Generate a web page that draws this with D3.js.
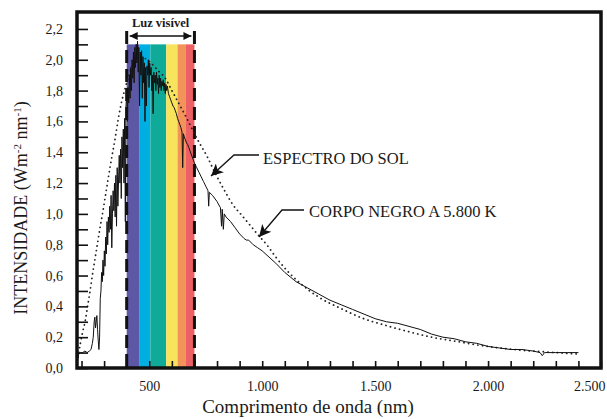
<!DOCTYPE html>
<html><head><meta charset="utf-8">
<script src="https://cdn.jsdelivr.net/npm/d3@7"></script>
<style>
html,body{margin:0;padding:0;background:#fff;}
text{font-family:"Liberation Serif","DejaVu Serif",serif;fill:#1a1a1a;}
</style></head>
<body><svg id="c" width="607" height="419"></svg>
<script>
// ---- data ----
const solarWavelength = [180,183,188,195,205,215,225,235,242,248,252,256,259,262,265,268,271,274,277,280,283,286,289,292,295,298,301,304,307,310,313,316,319,322,325,328,331,334,337,340,343,346,349,352,355,358,361,364,367,370,373,376,379,382,385,388,391,394,397,400,403,406,409,412,415,418,421,424,427,430,433,436,439,442,445,448,451,454,457,460,463,466,469,472,475,478,481,484,487,490,493,496,499,502,505,508,511,514,517,520,523,526,529,532,535,538,541,544,547,550,553,556,559,562,565,568,571,574,577,580,585,590,595,600,605,610,615,620,625,630,635,640,645,648,651,655,660,665,670,675,680,685,690,695,700,710,720,730,740,750,760,763,766,780,800,815,820,823,828,832,840,860,880,900,920,930,940,960,980,1000,1030,1060,1100,1150,1200,1250,1300,1350,1400,1450,1500,1550,1600,1650,1700,1750,1800,1850,1900,1950,2000,2050,2100,2150,2200,2230,2240,2250,2300,2350,2400];
const solarIntensity = [0.0,0.06,0.09,0.10,0.10,0.11,0.10,0.11,0.12,0.16,0.20,0.30,0.33,0.26,0.30,0.34,0.25,0.18,0.12,0.20,0.45,0.50,0.62,0.56,0.70,0.60,0.76,0.66,0.85,0.74,0.95,0.80,0.98,0.88,1.05,0.90,1.12,0.78,1.00,1.15,1.02,1.20,0.98,1.25,0.92,1.30,1.05,1.22,1.38,1.20,1.42,1.10,1.50,1.30,1.55,1.20,1.62,0.95,1.70,1.78,1.60,1.82,1.72,1.90,1.75,1.95,1.80,2.00,1.88,2.05,1.85,2.08,1.95,2.10,1.98,2.12,1.92,2.08,1.70,2.05,1.90,2.06,1.75,2.02,1.85,1.98,1.60,1.95,1.70,1.96,1.90,2.00,1.82,1.98,1.90,1.95,1.80,1.90,1.65,1.92,1.85,1.90,1.80,1.92,1.84,1.88,1.78,1.90,1.82,1.88,1.80,1.86,1.83,1.87,1.80,1.85,1.78,1.84,1.80,1.83,1.78,1.76,1.74,1.72,1.70,1.69,1.67,1.65,1.62,1.60,1.58,1.56,1.53,1.30,1.52,1.50,1.48,1.46,1.45,1.43,1.41,1.39,1.37,1.35,1.33,1.30,1.27,1.24,1.21,1.18,1.15,1.05,1.14,1.12,1.08,1.04,0.92,1.03,0.90,1.00,0.98,0.95,0.91,0.87,0.84,0.83,0.83,0.80,0.78,0.76,0.72,0.68,0.62,0.56,0.52,0.48,0.44,0.41,0.38,0.35,0.32,0.30,0.29,0.27,0.25,0.22,0.20,0.19,0.17,0.16,0.14,0.13,0.12,0.12,0.11,0.10,0.08,0.10,0.10,0.10,0.10];
const blackbodyWavelength = [185,195,206,217,228,239,250,261,272,283,294,305,316,327,338,350,361,372,383,394,410,425,440,460,480,500,520,545,571,593,615,637,659,680,700,726,757,790,830,870,910,950,978,1020,1060,1111,1168,1250,1350,1450,1550,1650,1750,1850,1950,2050,2150,2250,2350,2410];
const blackbodyIntensity = [0.07,0.16,0.24,0.31,0.41,0.51,0.62,0.72,0.82,0.92,1.01,1.11,1.21,1.31,1.40,1.50,1.60,1.69,1.76,1.82,1.90,1.96,2.00,2.02,2.01,1.99,1.96,1.92,1.88,1.82,1.76,1.70,1.64,1.58,1.52,1.45,1.37,1.27,1.16,1.06,0.99,0.92,0.87,0.80,0.72,0.63,0.55,0.46,0.385,0.32,0.275,0.235,0.20,0.175,0.15,0.13,0.115,0.105,0.095,0.09];
const bandStart = [400,455,505,575,625,660];
const bandEnd   = [455,505,575,625,660,700];
const bandColors = ["#5d58a5","#00afe1","#0fab98","#f8e45c","#f2935a","#ec6065"];
const bandTop = 2.1;
const visibleLimits = [400,700];
const xTickValues = d3.range(200,2501,100);
const xLabelValues = [500,1000,1500,2000,2500];
const yTickValues = d3.range(0,2.21,0.1).map(v=>+v.toFixed(1));
const yLabelValues = d3.range(0,2.21,0.2).map(v=>+v.toFixed(1));
const labels = {
  x:"Comprimento de onda (nm)",
  visible:"Luz visível",
  sun:"ESPECTRO DO SOL",
  body:"CORPO NEGRO A 5.800 K"
};

// ---- chart ----
const svg = d3.select("#c");
const L=77,R=601,T=12,B=368;
const x = d3.scaleLinear().domain([180,2500]).range([L,R]);
const y = d3.scaleLinear().domain([0,2.31]).range([B,T]);
const loc = d3.formatLocale({decimal:",",thousands:".",grouping:[3],currency:["",""]});
const fx = loc.format(",.0f"), fy = loc.format(".1f");

// bands
svg.append("g").selectAll("rect").data(bandColors).join("rect")
  .attr("x",(d,i)=>x(bandStart[i])).attr("width",(d,i)=>x(bandEnd[i])-x(bandStart[i]))
  .attr("y",y(bandTop)).attr("height",y(0)-y(bandTop)).attr("fill",d=>d);

// dashed visible limits
svg.append("g").selectAll("line").data(visibleLimits).join("line")
  .attr("x1",d=>x(d)).attr("x2",d=>x(d)).attr("y1",31).attr("y2",B)
  .attr("stroke","#111").attr("stroke-width",3).attr("stroke-dasharray","13,6");

// blackbody dotted
const line = d3.line().x(d=>x(d[0])).y(d=>y(d[1])).curve(d3.curveMonotoneX);
svg.append("path").datum(blackbodyWavelength.map((w,i)=>[w,blackbodyIntensity[i]]))
  .attr("d",line).attr("fill","none").attr("stroke","#222").attr("stroke-width",1.8)
  .attr("stroke-linecap","round").attr("stroke-dasharray","0.1,4.6");

// solar
const lineS = d3.line().x(d=>x(d[0])).y(d=>y(d[1]));
svg.append("path").datum(solarWavelength.map((w,i)=>[w,solarIntensity[i]]))
  .attr("d",lineS).attr("fill","none").attr("stroke","#111").attr("stroke-width",1)
  .attr("stroke-linejoin","round");

// axes
const gx = svg.append("g").attr("transform",`translate(0,${B})`)
  .call(d3.axisBottom(x).tickValues(xTickValues).tickSize(-7).tickPadding(10)
    .tickFormat(d=>xLabelValues.includes(d)?fx(d):""));
gx.select(".domain").remove();
gx.selectAll(".tick line").attr("stroke","#111").attr("stroke-width",1.6);
gx.selectAll(".tick text").attr("font-size",14).attr("font-family","Liberation Serif").attr("fill","#1a1a1a").attr("dy","0.9em");
gx.selectAll(".tick").filter(d=>d===2500).select("text").attr("text-anchor","end").attr("dx",4);

const gy = svg.append("g").attr("transform",`translate(${L},0)`)
  .call(d3.axisLeft(y).tickValues(yTickValues).tickSize(-11).tickPadding(14)
    .tickFormat(d=>yLabelValues.some(v=>Math.abs(v-d)<1e-6)?fy(d):""));
gy.select(".domain").remove();
gy.selectAll(".tick line").attr("stroke","#111").attr("stroke-width",1.6);
gy.selectAll(".tick text").attr("font-size",14).attr("font-family","Liberation Serif").attr("fill","#1a1a1a");

// frame
svg.append("rect").attr("x",L).attr("y",T).attr("width",R-L).attr("height",B-T)
  .attr("fill","none").attr("stroke","#111").attr("stroke-width",3.5);

// axis titles
svg.append("text").attr("x",308).attr("y",413).attr("text-anchor","middle")
  .attr("font-size",19).text(labels.x);
const yt = svg.append("text").attr("transform",`translate(27,${208}) rotate(-90)`)
  .attr("text-anchor","middle").attr("font-size",18);
yt.append("tspan").text("INTENSIDADE (Wm");
yt.append("tspan").attr("baseline-shift","super").attr("font-size",11).text("-2");
yt.append("tspan").text(" nm");
yt.append("tspan").attr("baseline-shift","super").attr("font-size",11).text("-1");
yt.append("tspan").text(")");

// Luz visível
const defs = svg.append("defs");
defs.append("marker").attr("id","ah").attr("viewBox","0 0 10 10").attr("refX",10).attr("refY",5)
  .attr("markerWidth",8).attr("markerHeight",8).attr("markerUnits","userSpaceOnUse").attr("orient","auto-start-reverse")
  .append("path").attr("d","M0,0L10,5L0,10z").attr("fill","#111");
defs.append("marker").attr("id","big").attr("viewBox","0 0 10 10").attr("refX",10).attr("refY",5)
  .attr("markerWidth",14).attr("markerHeight",12).attr("markerUnits","userSpaceOnUse").attr("orient","auto")
  .append("path").attr("d","M0,0L10,5L0,10L2.5,5z").attr("fill","#111");
svg.append("text").attr("x",(x(400)+x(700))/2).attr("y",27).attr("text-anchor","middle")
  .attr("font-size",12.5).attr("font-weight","bold").text(labels.visible);
svg.append("line").attr("x1",x(400)+3).attr("x2",x(700)-3).attr("y1",36).attr("y2",36)
  .attr("stroke","#111").attr("stroke-width",1.3)
  .attr("marker-start","url(#ah)").attr("marker-end","url(#ah)");

// annotations
svg.append("path").attr("d","M259,155L234,155L211,176").attr("fill","none").attr("stroke","#111")
  .attr("stroke-width",1.3).attr("marker-end","url(#big)");
svg.append("text").attr("x",263).attr("y",164).attr("font-size",16.5).text(labels.sun);
svg.append("path").attr("d","M304,210L282,210L259,237").attr("fill","none").attr("stroke","#111")
  .attr("stroke-width",1.3).attr("marker-end","url(#big)");
svg.append("text").attr("x",309).attr("y",217).attr("font-size",16.5).text(labels.body);
</script></body></html>
